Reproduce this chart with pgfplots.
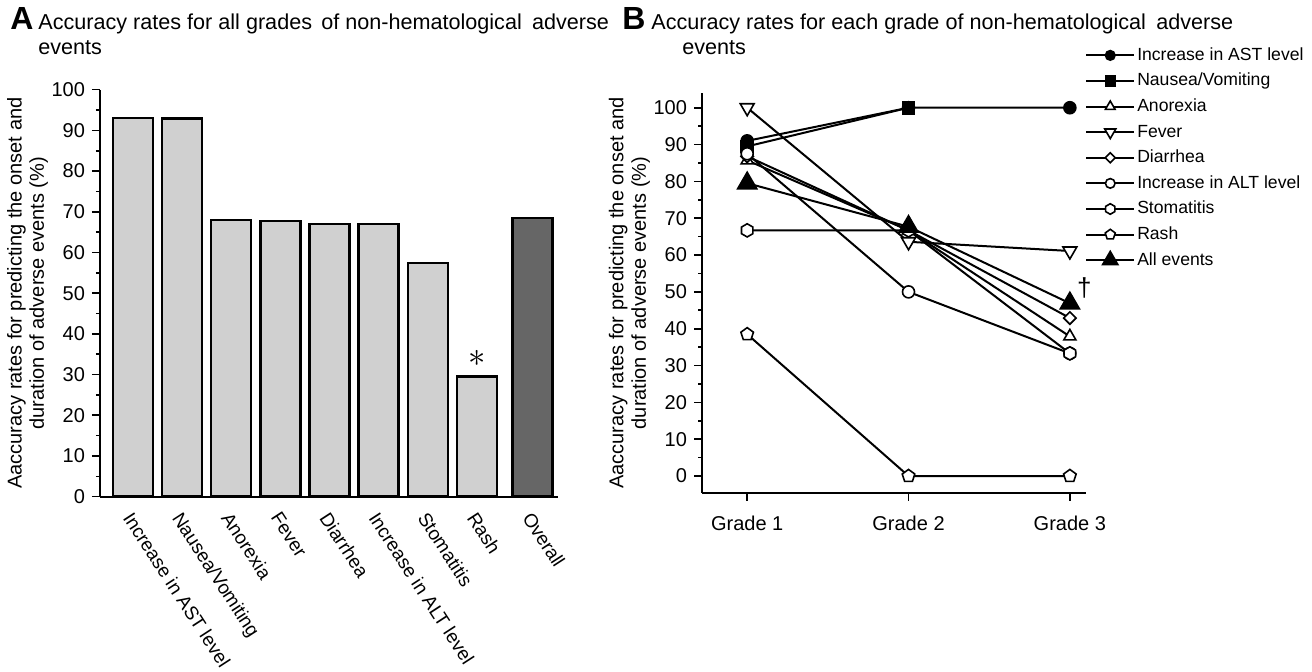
\documentclass[border=0pt]{standalone}
\usepackage{fontspec}
\setmainfont{Liberation Sans}
\usepackage{pgfplots}
\pgfplotsset{compat=1.18}
\usetikzlibrary{plotmarks}
\definecolor{lightbar}{RGB}{208,208,208}
\definecolor{darkbar}{RGB}{102,102,102}
\newcommand\tickfont{\fontsize{10}{11}\selectfont}
\newcommand\xlabfont{\fontsize{9.5}{11}\selectfont}
\newcommand\labfont{\fontsize{10}{11.2}\selectfont}
\newcommand\legfont{\fontsize{8.8}{10}\selectfont}
\newcommand\titfont{\fontsize{10.8}{13}\selectfont}
\pgfdeclareplotmark{hexagon*}{%
  \pgfpathmoveto{\pgfpointpolar{90}{\pgfplotmarksize}}%
  \pgfpathlineto{\pgfpointpolar{150}{\pgfplotmarksize}}%
  \pgfpathlineto{\pgfpointpolar{210}{\pgfplotmarksize}}%
  \pgfpathlineto{\pgfpointpolar{270}{\pgfplotmarksize}}%
  \pgfpathlineto{\pgfpointpolar{330}{\pgfplotmarksize}}%
  \pgfpathlineto{\pgfpointpolar{30}{\pgfplotmarksize}}%
  \pgfpathclose
  \pgfusepathqfillstroke}
\begin{document}
\begin{tikzpicture}
\useasboundingbox (0,0) rectangle (656pt,336pt);
% ---------------- Panel A ----------------
\begin{axis}[
  at={(50pt,87.65pt)}, anchor=south west,
  scale only axis, width=229pt, height=203.5pt,
  xmin=-0.672, xmax=8.65, ymin=0, ymax=100,
  axis x line*=bottom, axis y line*=left,
  axis line style={line width=1pt, -},
  ytick={0,10,...,100}, minor y tick num=1,
  tick align=outside,
  major tick length=4pt, minor tick length=2pt,
  tick style={black, line width=0.8pt},
  xtick={0,1,2,3,4,5,6,7,8.13},
  xticklabels={Increase in AST level, Nausea/Vomiting, Anorexia, Fever, Diarrhea, Increase in ALT level, Stomatitis, Rash, Overall},
  xtick style={draw=none},
  xticklabel style={rotate=-57, anchor=north west, font=\xlabfont, inner sep=1pt, xshift=1.5pt},
  yticklabel style={font=\tickfont},
  /pgf/number format/assume math mode=true,
  ylabel={Aaccuracy rates for predicting the onset and\\duration of adverse events (\%)},
  ylabel style={align=center, font=\labfont, at={(axis description cs:-0.098,0.5)}, anchor=south},
  ybar, bar width=20pt, bar shift=0pt,
  clip=false,
]
\addplot[fill=lightbar, draw=black, line width=1.2pt] coordinates {(0,93.1) (1,92.9) (2,68.0) (3,67.7) (4,67.0) (5,67.0) (6,57.4) (7,29.5)};
\addplot[fill=darkbar, draw=black, line width=1.2pt] coordinates {(8.13,68.5)};
\node at (axis cs:7,34) {\LARGE$\ast$};
\end{axis}
% ---------------- Panel B ----------------
\begin{axis}[
  at={(351pt,89.5pt)}, anchor=south west,
  scale only axis, width=192pt, height=200pt,
  xmin=0.72, xmax=3.10, ymin=-4.6, ymax=104,
  axis x line*=bottom, axis y line*=left,
  axis line style={line width=1pt, -},
  ytick={0,10,...,100}, minor y tick num=1,
  xtick={1,2,3}, xticklabels={Grade 1, Grade 2, Grade 3},
  tick align=outside,
  major tick length=4pt, minor tick length=2pt,
  tick style={black, line width=0.8pt},
  ticklabel style={font=\tickfont},
  xticklabel style={yshift=-4pt},
  /pgf/number format/assume math mode=true,
  ylabel={Aaccuracy rates for predicting the onset and\\duration of adverse events (\%)},
  ylabel style={align=center, font=\labfont, at={(axis description cs:-0.117,0.5)}, anchor=south},
  legend style={at={(0.997,1.1225)}, anchor=north west, draw=none, fill=none, font=\legfont,
    inner sep=0pt, row sep=1.8pt, nodes={inner sep=1pt, text height=7pt, text depth=2pt}},
  legend cell align=left,
  legend image code/.code={%
    \draw[mark repeat=2,mark phase=2,#1,/tikz/every mark/.append style={scale=0.8}]
      plot coordinates {(0pt,0pt) (12pt,0pt) (24pt,0pt)};},
  every axis plot/.append style={black, line width=1pt},
  clip=false,
]
\addplot[mark=*, mark size=3pt, mark options={line width=0.8pt, fill=black}] coordinates {(1,91) (2,100) (3,100)};
\addlegendentry{Increase in AST level}
\addplot[mark=square*, mark size=3pt, mark options={line width=0.8pt, fill=black}] coordinates {(1,89.5) (2,100)};
\addlegendentry{Nausea/Vomiting}
\addplot[mark=triangle*, mark size=3.5pt, mark options={line width=0.8pt, fill=white}] coordinates {(1,85.7) (2,66.7) (3,37.9)};
\addlegendentry{Anorexia}
\addplot[mark=triangle*, mark size=4pt, mark options={line width=0.8pt, fill=white, rotate=180}] coordinates {(1,100) (2,63.6) (3,61.1)};
\addlegendentry{Fever}
\addplot[mark=square*, mark size=2.2pt, mark options={line width=0.8pt, fill=white, rotate=45}] coordinates {(1,86.8) (2,66.7) (3,42.9)};
\addlegendentry{Diarrhea}
\addplot[mark=*, mark size=3pt, mark options={line width=0.8pt, fill=white}] coordinates {(1,87.5) (2,50) (3,33.3)};
\addlegendentry{Increase in ALT level}
\addplot[mark=hexagon*, mark size=3.3pt, mark options={line width=0.8pt, fill=white}] coordinates {(1,66.7) (2,66.7) (3,33.3)};
\addlegendentry{Stomatitis}
\addplot[mark=pentagon*, mark size=3.3pt, mark options={line width=0.8pt, fill=white}] coordinates {(1,38.5) (2,0) (3,0)};
\addlegendentry{Rash}
\addplot[mark=triangle*, mark size=5.5pt, mark options={line width=0.8pt, fill=black}] coordinates {(1,79.5) (2,67.7) (3,46.9)};
\addlegendentry{All events}
\node at (axis cs:3.09,51) {\fontsize{13}{13}\selectfont †};
\end{axis}
% ---------------- Titles ----------------
\node[anchor=base west, inner sep=0] at (5pt,321pt) {\fontsize{16}{16}\selectfont\bfseries A};
\node[anchor=base west, inner sep=0] at (19pt,321pt) {\titfont Accuracy rates for all grades\hspace{0.15em} of non-hematological\hspace{0.2em} adverse};
\node[anchor=base west, inner sep=0] at (19pt,308.5pt) {\titfont events};
\node[anchor=base west, inner sep=0] at (311pt,321pt) {\fontsize{16}{16}\selectfont\bfseries B};
\node[anchor=base west, inner sep=0] at (325.5pt,321pt) {\titfont Accuracy rates for each grade of non-hematological\hspace{0.2em} adverse};
\node[anchor=base west, inner sep=0] at (341pt,308.5pt) {\titfont events};
\end{tikzpicture}
\end{document}
